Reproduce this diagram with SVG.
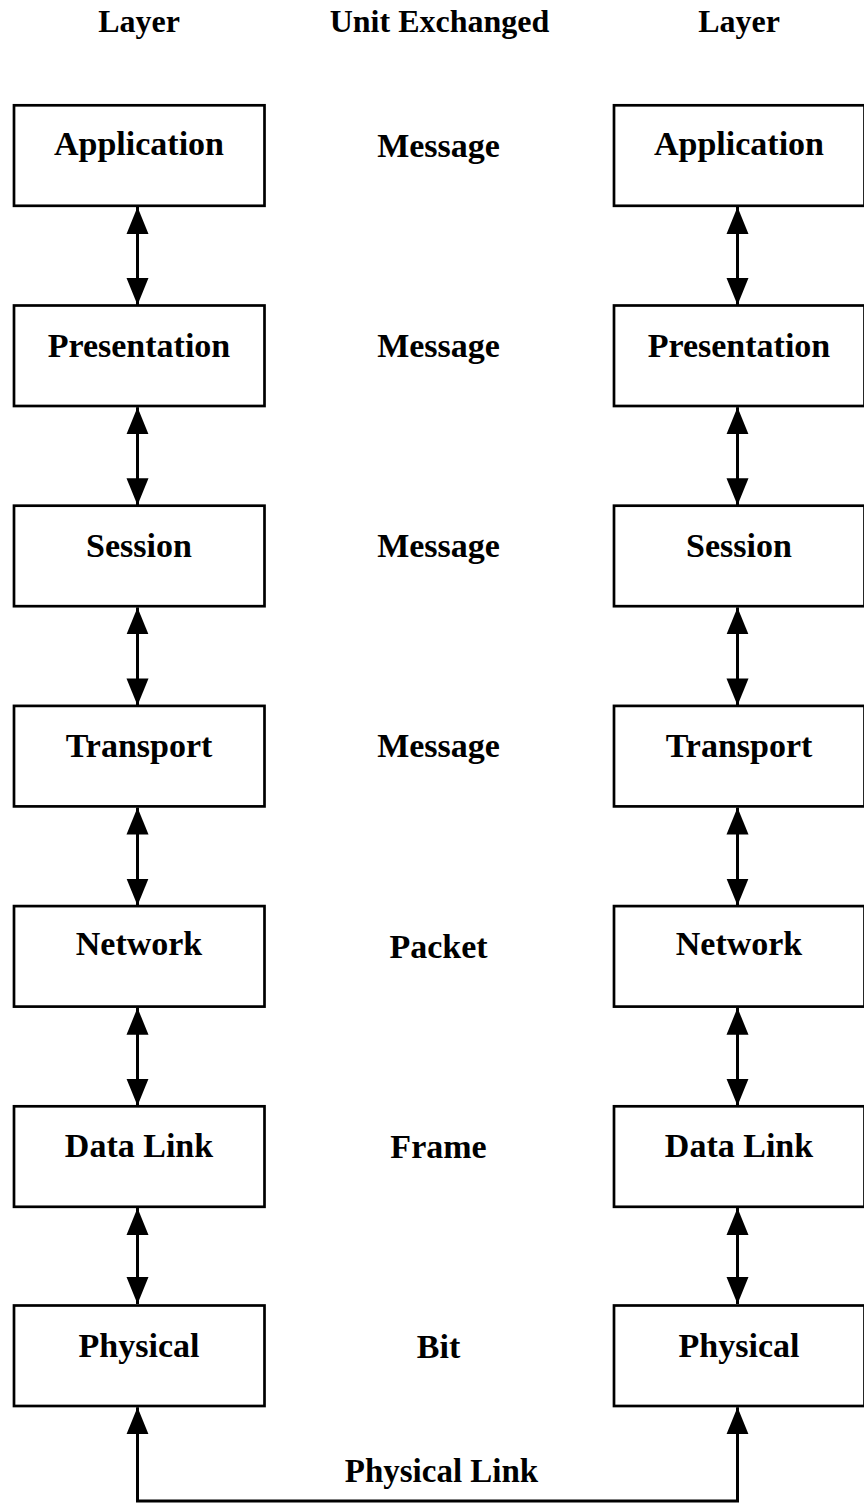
<svg xmlns="http://www.w3.org/2000/svg" width="864" height="1505" viewBox="0 0 864 1505">
  <style>
    .box { fill: #ffffff; stroke: #000000; stroke-width: 2.7; }
    .lbl { font-family: "Liberation Serif", "Times New Roman", serif; font-weight: bold; font-size: 34px; fill: #000000; text-anchor: middle; }
    .hdr { font-size: 32px; }
    .link { fill: none; stroke: #000000; stroke-width: 3; }
  </style>
  <defs>
    <marker id="head" markerUnits="userSpaceOnUse" markerWidth="28" markerHeight="24" viewBox="0 -12 28 24" refX="27" refY="0" orient="auto-start-reverse">
      <path d="M0,-11 L27,0 L0,11 Z" fill="#000000"/>
    </marker>
  </defs>

  <rect width="864" height="1505" fill="#ffffff"/>

  <!-- column headings -->
  <g id="headings">
    <text class="lbl hdr" x="139" y="32">Layer</text>
    <text class="lbl hdr" x="439.5" y="32">Unit Exchanged</text>
    <text class="lbl hdr" x="739" y="32">Layer</text>
  </g>

  <!-- left stack -->
  <g id="left-application"><rect class="box" x="14" y="105.3" width="250.5" height="100.5"/><text class="lbl" x="139" y="155">Application</text></g>
  <g id="left-presentation"><rect class="box" x="14" y="305.5" width="250.5" height="100.5"/><text class="lbl" x="139" y="357">Presentation</text></g>
  <g id="left-session"><rect class="box" x="14" y="505.7" width="250.5" height="100.5"/><text class="lbl" x="139" y="557">Session</text></g>
  <g id="left-transport"><rect class="box" x="14" y="705.9" width="250.5" height="100.5"/><text class="lbl" x="139" y="757">Transport</text></g>
  <g id="left-network"><rect class="box" x="14" y="906.1" width="250.5" height="100.5"/><text class="lbl" x="139" y="955">Network</text></g>
  <g id="left-datalink"><rect class="box" x="14" y="1106.3" width="250.5" height="100.5"/><text class="lbl" x="139" y="1157">Data Link</text></g>
  <g id="left-physical"><rect class="box" x="14" y="1305.5" width="250.5" height="100.5"/><text class="lbl" x="139" y="1357">Physical</text></g>

  <!-- right stack -->
  <g id="right-application"><rect class="box" x="614" y="105.3" width="250.5" height="100.5"/><text class="lbl" x="739" y="155">Application</text></g>
  <g id="right-presentation"><rect class="box" x="614" y="305.5" width="250.5" height="100.5"/><text class="lbl" x="739" y="357">Presentation</text></g>
  <g id="right-session"><rect class="box" x="614" y="505.7" width="250.5" height="100.5"/><text class="lbl" x="739" y="557">Session</text></g>
  <g id="right-transport"><rect class="box" x="614" y="705.9" width="250.5" height="100.5"/><text class="lbl" x="739" y="757">Transport</text></g>
  <g id="right-network"><rect class="box" x="614" y="906.1" width="250.5" height="100.5"/><text class="lbl" x="739" y="955">Network</text></g>
  <g id="right-datalink"><rect class="box" x="614" y="1106.3" width="250.5" height="100.5"/><text class="lbl" x="739" y="1157">Data Link</text></g>
  <g id="right-physical"><rect class="box" x="614" y="1305.5" width="250.5" height="100.5"/><text class="lbl" x="739" y="1357">Physical</text></g>

  <!-- unit exchanged at each layer -->
  <g id="units">
    <text class="lbl" x="438.5" y="157">Message</text>
    <text class="lbl" x="438.5" y="357">Message</text>
    <text class="lbl" x="438.5" y="557">Message</text>
    <text class="lbl" x="438.5" y="757">Message</text>
    <text class="lbl" x="438.5" y="958">Packet</text>
    <text class="lbl" x="438.5" y="1158">Frame</text>
    <text class="lbl" x="438.5" y="1358">Bit</text>
  </g>

  <!-- connectors -->
  <g id="connectors" class="link">
    <path d="M137.5,207 V305" marker-start="url(#head)" marker-end="url(#head)"/>
    <path d="M137.5,407.2 V505.2" marker-start="url(#head)" marker-end="url(#head)"/>
    <path d="M137.5,607.4 V705.4" marker-start="url(#head)" marker-end="url(#head)"/>
    <path d="M137.5,807.6 V905.6" marker-start="url(#head)" marker-end="url(#head)"/>
    <path d="M137.5,1007.8 V1105.8" marker-start="url(#head)" marker-end="url(#head)"/>
    <path d="M137.5,1208 V1304" marker-start="url(#head)" marker-end="url(#head)"/>
    <path d="M737.5,207 V305" marker-start="url(#head)" marker-end="url(#head)"/>
    <path d="M737.5,407.2 V505.2" marker-start="url(#head)" marker-end="url(#head)"/>
    <path d="M737.5,607.4 V705.4" marker-start="url(#head)" marker-end="url(#head)"/>
    <path d="M737.5,807.6 V905.6" marker-start="url(#head)" marker-end="url(#head)"/>
    <path d="M737.5,1007.8 V1105.8" marker-start="url(#head)" marker-end="url(#head)"/>
    <path d="M737.5,1208 V1304" marker-start="url(#head)" marker-end="url(#head)"/>
    <path d="M137.5,1407.2 V1501 H737.5 V1407.2" marker-start="url(#head)" marker-end="url(#head)"/>
  </g>
  <text class="lbl" x="441.5" y="1482" style="font-size:33px">Physical Link</text>
</svg>
